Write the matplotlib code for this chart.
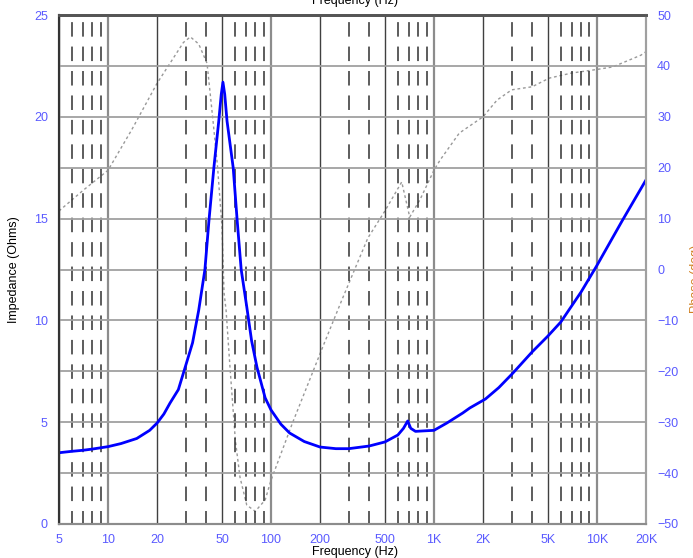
import numpy as np
import matplotlib
matplotlib.use('Agg')
import matplotlib.pyplot as plt
from matplotlib.ticker import FixedLocator, NullFormatter

plt.rcParams['font.family'] = ['Liberation Sans', 'DejaVu Sans']

# impedance curve (Hz, Ohms)
imp_freq = [5, 6, 7, 8, 10, 12, 15, 18, 20, 22, 24, 27, 30, 33, 36, 39.3, 41.6, 44.6,
            47.8, 49.5, 50.7, 52, 53.7, 58.6, 62, 65.6, 71, 76, 82, 92, 100, 115, 130,
            160, 200, 250, 300, 400, 500, 600, 650, 690, 720, 770, 850, 1000, 1200,
            1500, 1660, 2070, 2500, 3040, 4000, 5000, 6000, 8000, 10000, 14300, 20000]
imp_ohms = [3.5, 3.57, 3.62, 3.68, 3.8, 3.95, 4.2, 4.6, 4.96, 5.4, 5.94, 6.6, 7.8,
            8.9, 10.5, 12.5, 14.9, 17.5, 19.8, 21.1, 21.7, 21.1, 19.8, 17.5, 14.9,
            12.5, 10.66, 9.0, 7.7, 6.2, 5.6, 4.9, 4.47, 4.05, 3.78, 3.7, 3.7, 3.83,
            4.03, 4.37, 4.7, 5.06, 4.7, 4.55, 4.57, 4.6, 4.96, 5.45, 5.7, 6.14, 6.7,
            7.4, 8.45, 9.23, 9.92, 11.4, 12.7, 14.9, 16.9]

# phase curve (Hz, deg)
ph_freq = [5, 7, 10, 14, 20, 25, 29, 32, 36, 40.5, 44, 47, 50, 51.5, 53, 56, 60.4,
           64.5, 71, 80, 92, 100, 136, 209, 272, 393, 500, 634, 710, 820, 1000, 1090,
           1430, 2000, 2440, 3000, 4000, 5100, 7000, 10000, 12500, 18600, 20000]
ph_deg = [11.5, 15.5, 19.5, 27.5, 36.6, 41.4, 44.6, 45.7, 44.3, 40.5, 29.4, 20.1,
          8.4, -4.6, -8, -19.2, -33.5, -40.8, -46.3, -47.5, -45.3, -41.4, -30, -15,
          -6, 6.2, 11.5, 17.2, 10.3, 13.7, 19.5, 21.5, 26.8, 30, 33.3, 35.3, 35.9,
          37.6, 38.6, 39.3, 39.8, 42.1, 42.8]

x_ticks = [5, 10, 20, 50, 100, 200, 500, 1000, 2000, 5000, 10000, 20000]
x_labels = ['5', '10', '20', '50', '100', '200', '500', '1K', '2K', '5K', '10K', '20K']
x_minor = [6, 7, 8, 9, 30, 40, 60, 70, 80, 90, 300, 400, 600, 700, 800, 900,
           3000, 4000, 6000, 7000, 8000, 9000]
decades = [10, 100, 1000, 10000]

tick_col = '#5a5aff'

fig = plt.figure(figsize=(6.93, 5.58), dpi=100)
ax = fig.add_axes([59 / 693, 34 / 558, 587 / 693, 509 / 558])
ax2 = ax.twinx()

ax.set_xscale('log')
ax.set_xlim(5, 20000)
ax.set_ylim(0, 25)
ax2.set_ylim(-50, 50)

ax.xaxis.set_major_locator(FixedLocator(x_ticks))
ax.set_xticklabels(x_labels)
ax.xaxis.set_minor_locator(FixedLocator(x_minor))
ax.xaxis.set_minor_formatter(NullFormatter())
ax.set_yticks(np.arange(0, 26, 5))
ax.set_yticks(np.arange(2.5, 25, 5), minor=True)
ax2.set_yticks(np.arange(-50, 51, 10))

ax.tick_params(which='both', length=0, labelsize=9, labelcolor=tick_col)
ax.tick_params(axis='x', pad=7)
ax.tick_params(axis='y', pad=8)
ax2.tick_params(length=0, labelsize=9, labelcolor=tick_col, pad=8)

# grid
ax.grid(True, which='major', axis='y', color='#a0a0a0', lw=1.3)
ax.grid(True, which='minor', axis='y', color='#a0a0a0', lw=1.3)
ax.grid(True, which='major', axis='x', color='#404040', lw=1)
ax.grid(True, which='minor', axis='x', color='#303030', lw=1.1, ls=(1, (9.5, 6.5)))
for t, f in zip(ax.xaxis.get_major_ticks(), x_ticks):
    if f in decades:
        t.gridline.set_color('#8c8c8c')
        t.gridline.set_linewidth(1.6)

ax.set_axisbelow(True)

ax2.plot(ph_freq, ph_deg, color='#999999', lw=1, ls=(0, (2, 2)))
ax.plot(imp_freq, imp_ohms, color='#0000ff', lw=2)

ax.set_zorder(ax2.get_zorder() + 1)
ax.patch.set_visible(False)

for a in (ax, ax2):
    a.spines['top'].set_color('#555555')
    a.spines['top'].set_linewidth(2)
    a.spines['left'].set_color('#333333')
    a.spines['left'].set_linewidth(1.5)
    a.spines['right'].set_color('#a0a0a0')
    a.spines['right'].set_linewidth(1.5)
    a.spines['bottom'].set_color('#8c8c8c')
    a.spines['bottom'].set_linewidth(1.5)

ax.set_ylabel('Impedance (Ohms)', fontsize=9, color='black', labelpad=10)
fig.text(690 / 693, 0.5, 'Phase (deg)', rotation=90, fontsize=9, color='#d08020',
         ha='left', va='center')
fig.text(355 / 693, 3 / 558, 'Frequency (Hz)', fontsize=9, ha='center', va='baseline')
fig.text(355 / 693, 1 - 4 / 558, 'Frequency (Hz)', fontsize=9, ha='center', va='baseline')

fig.savefig('out.png', dpi=100)
